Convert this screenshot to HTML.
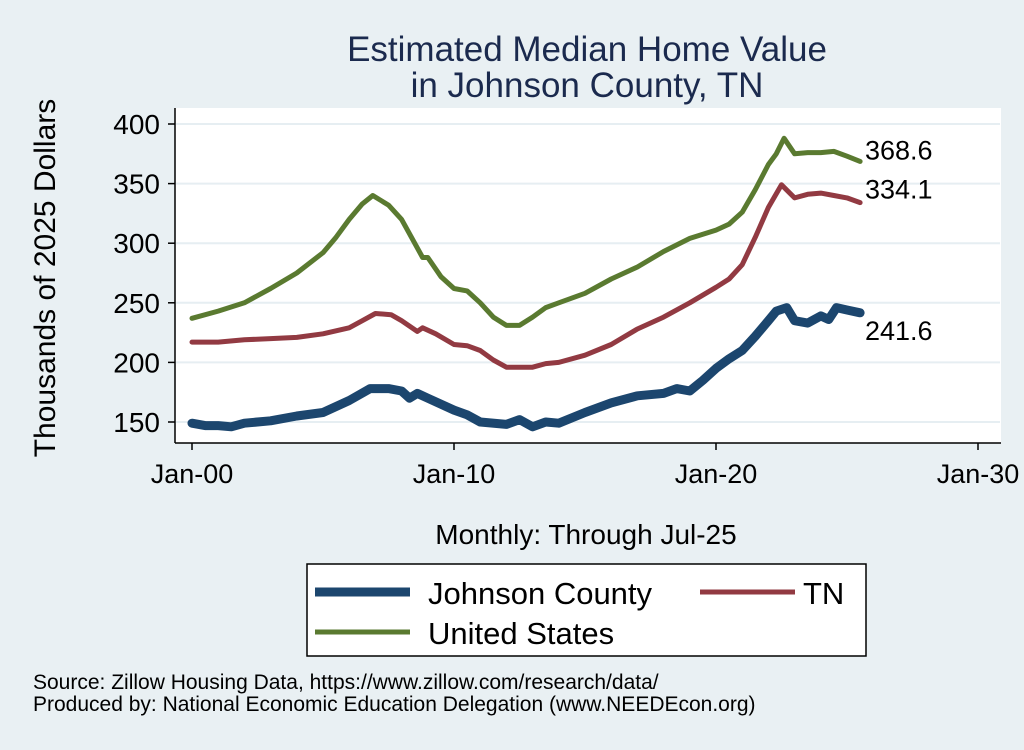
<!DOCTYPE html>
<html><head><meta charset="utf-8"><style>
body{margin:0;background:#e9f0f3;}
svg text{font-family:"Liberation Sans",sans-serif;}
</style></head><body>
<svg width="1024" height="745" viewBox="0 0 1024 745" xmlns="http://www.w3.org/2000/svg">
<rect width="1024" height="745" fill="#e9f0f3"/>
<text x="587" y="61" font-size="35" fill="#1b2a4e" text-anchor="middle">Estimated Median Home Value</text>
<text x="587" y="97" font-size="35" fill="#1b2a4e" text-anchor="middle">in Johnson County, TN</text>
<rect x="175" y="108" width="826" height="335" fill="#ffffff"/>
<g id="grid"></g>
<g id="axes"></g>
<g id="series"></g>
<g id="labels"></g>
<text transform="translate(55,278) rotate(-90)" font-size="30" text-anchor="middle" fill="#000">Thousands of 2025 Dollars</text>
<text x="586" y="544" font-size="28" text-anchor="middle" fill="#000">Monthly: Through Jul-25</text>
<g>
<rect x="307" y="564" width="559" height="92" fill="#fff" stroke="#000" stroke-width="1.5"/>
<line x1="315" y1="592" x2="410" y2="592" stroke="#1c466e" stroke-width="9"/>
<text x="428" y="604" font-size="31">Johnson County</text>
<line x1="700" y1="592" x2="795" y2="592" stroke="#923a42" stroke-width="5"/>
<text x="803" y="604" font-size="31">TN</text>
<line x1="315" y1="632" x2="410" y2="632" stroke="#5a7a30" stroke-width="5"/>
<text x="428" y="644" font-size="31">United States</text>
</g>
<text x="33" y="689" font-size="21">Source: Zillow Housing Data, https://www.zillow.com/research/data/</text>
<text x="33" y="711" font-size="21">Produced by: National Economic Education Delegation (www.NEEDEcon.org)</text>
</svg>
<script>
const yTicks=[150,200,250,300,350,400];
const xTicks=[2000,2010,2020,2030];
const xTickLabels=["Jan-00","Jan-10","Jan-20","Jan-30"];
const usT=[2000,2001,2002,2003,2004,2005,2005.5,2006,2006.5,2006.9,2007.5,2008,2008.5,2008.8,2009,2009.5,2010,2010.5,2011,2011.5,2012,2012.5,2013,2013.5,2014,2015,2016,2017,2018,2019,2020,2020.5,2021,2021.5,2022,2022.3,2022.6,2023,2023.5,2024,2024.5,2025,2025.5];
const usV=[237,243,250,262,275,292,305,320,333,340,332,320,300,288,288,272,262,260,250,238,231,231,238,246,250,258,270,280,293,304,311,316,326,345,366,375,388,375,376,376,377,373,368.6];
const tnT=[2000,2001,2002,2003,2004,2005,2006,2006.5,2007,2007.6,2008,2008.6,2008.8,2009.3,2010,2010.5,2011,2011.5,2012,2012.5,2013,2013.5,2014,2015,2016,2017,2018,2019,2020,2020.5,2021,2021.5,2022,2022.5,2023,2023.5,2024,2024.5,2025,2025.5];
const tnV=[217,217,219,220,221,224,229,235,241,240,235,226,229,224,215,214,210,202,196,196,196,199,200,206,215,228,238,250,263,270,282,305,330,349,338,341,342,340,338,334.1];
const jcT=[2000,2000.5,2001,2001.5,2002,2003,2004,2005,2006,2006.8,2007.5,2008,2008.3,2008.6,2009,2010,2010.5,2011,2012,2012.5,2013,2013.5,2014,2015,2016,2017,2018,2018.5,2019,2019.5,2020,2020.5,2021,2021.5,2022,2022.3,2022.7,2023,2023.5,2024,2024.3,2024.6,2025,2025.5];
const jcV=[149,147,147,146,149,151,155,158,168,178,178,176,170,174,170,160,156,150,148,152,146,150,149,158,166,172,174,178,176,185,195,203,210,222,235,243,246,235,233,239,236,246,244,241.6];
const endLabels=["368.6","334.1","241.6"];
const NS="http://www.w3.org/2000/svg";
const xS=t=>192+(t-2000)*26.2;
const yS=v=>422-(v-150)*1.192;
function mk(tag,attrs,parent){const e=document.createElementNS(NS,tag);for(const k in attrs)e.setAttribute(k,attrs[k]);parent.appendChild(e);return e;}
const grid=document.getElementById('grid'),axes=document.getElementById('axes'),ser=document.getElementById('series'),lab=document.getElementById('labels');
yTicks.forEach(v=>{
 const g=mk('line',{x1:176,x2:1000,y1:yS(v),y2:yS(v),stroke:'#e6eef2','stroke-width':2},grid);
 
 
 const t=mk('line',{x1:168,x2:175,y1:yS(v),y2:yS(v),stroke:'#000','stroke-width':1.5},axes);
 
 
 const l=mk('text',{x:160,y:yS(v)+10,'font-size':28,'text-anchor':'end'},axes);l.textContent=v;
 
 
});
xTicks.forEach((t,i)=>{
 const tk=mk('line',{x1:xS(t),x2:xS(t),y1:443,y2:450,stroke:'#000','stroke-width':1.5},axes);
 
 
 const l=mk('text',{x:xS(t),y:483,'font-size':27,'text-anchor':'middle'},axes);l.textContent=xTickLabels[i];
 
 
});
const ya=mk('line',{x1:175,x2:175,y1:108,y2:443,stroke:'#000','stroke-width':1.5},axes);


const xa=mk('line',{x1:175,x2:1001,y1:443,y2:443,stroke:'#000','stroke-width':1.5},axes);


function line(T,V,color,w,name){
 const d=T.map((t,i)=>(i?'L':'M')+xS(t).toFixed(1)+','+yS(V[i]).toFixed(1)).join('');
 const p=mk('path',{d:d,fill:'none',stroke:color,'stroke-width':w,'stroke-linejoin':'round','stroke-linecap':'round'},ser);
 
 
}
line(usT,usV,'#5a7a30',5,'us-line');
line(tnT,tnV,'#923a42',5,'tn-line');
line(jcT,jcV,'#1c466e',9,'johnson-county-line');
const offs=[-2,-4,27];
[[usV,'us'],[tnV,'tn'],[jcV,'johnson']].forEach((s,i)=>{
 const v=s[0][s[0].length-1];
 const l=mk('text',{x:865,y:yS(v)+offs[i],'font-size':27},lab);l.textContent=endLabels[i];
 
 
});
</script>
</body></html>
